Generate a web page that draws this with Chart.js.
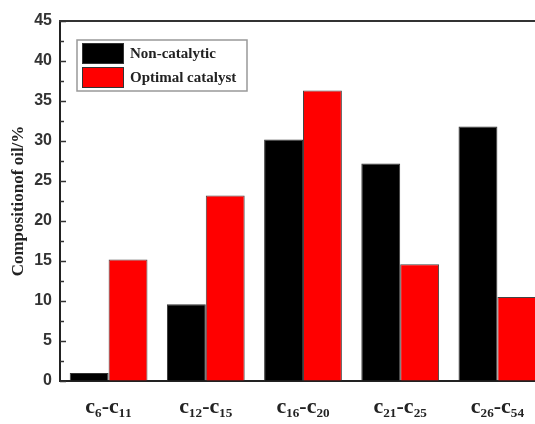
<!DOCTYPE html>
<html>
<head>
<meta charset="utf-8">
<script src="https://cdn.jsdelivr.net/npm/chart.js@4.4.0/dist/chart.umd.min.js"></script>
<style>
  html, body { margin: 0; padding: 0; background: #fff; overflow: hidden; }
  #wrap { width: 560px; height: 424px; }
</style>
</head>
<body>
<div id="wrap"><canvas id="chart" width="560" height="424"></canvas></div>
<script>
// fractions (carbon number ranges)
const categories = ['c\u2086-c\u2081\u2081', 'c\u2081\u2082-c\u2081\u2085', 'c\u2081\u2086-c\u2082\u2080', 'c\u2082\u2081-c\u2082\u2085', 'c\u2082\u2086-c\u2085\u2084'];
const nonCatalytic = [1.0, 9.6, 30.2, 27.2, 31.8];
const optimalCatalyst = [15.2, 23.2, 36.3, 14.6, 10.5];
const seriesNames = ['Non-catalytic', 'Optimal catalyst'];
const seriesColors = ['#000000', '#ff0000'];

// inward ticks, top frame line, and boxed legend inside the plot
const framePlugin = {
    id: 'frame',
    afterDraw(chart) {
        const ctx = chart.ctx;
        const area = chart.chartArea;
        const y = chart.scales.y;
        ctx.save();
        ctx.strokeStyle = '#333';
        ctx.lineWidth = 1.5;
        for (let v = 0; v <= 45; v += 2.5) {
            let py = Math.round(y.getPixelForValue(v)) + 0.5;
            let len = (v % 5 === 0) ? 6 : 4;
            ctx.beginPath();
            ctx.moveTo(area.left, py);
            ctx.lineTo(area.left + len, py);
            ctx.stroke();
        }
        ctx.lineWidth = 2;
        ctx.beginPath();
        ctx.moveTo(area.left - 1, area.top);
        ctx.lineTo(area.right, area.top);
        ctx.stroke();

        // legend
        let bx = 77, by = 40, bw = 170, bh = 51;
        ctx.fillStyle = '#fff';
        ctx.fillRect(bx, by, bw, bh);
        ctx.strokeStyle = '#999';
        ctx.lineWidth = 1.5;
        ctx.strokeRect(bx, by, bw, bh);
        ctx.font = 'bold 15px "Liberation Serif", "Times New Roman", serif';
        ctx.textBaseline = 'middle';
        chart.data.datasets.forEach((ds, i) => {
            let sy = by + 3 + i * 24;
            ctx.fillStyle = ds.backgroundColor;
            ctx.fillRect(bx + 5, sy, 42, 21);
            ctx.strokeStyle = '#333';
            ctx.lineWidth = 1;
            ctx.strokeRect(bx + 5.5, sy + 0.5, 41, 20);
            ctx.fillStyle = '#222';
            ctx.fillText(ds.label, bx + 53, sy + 11);
        });
        ctx.restore();
    }
};

const data = {
    labels: categories,
    datasets: [{
            label: seriesNames[0],
            data: nonCatalytic,
            backgroundColor: seriesColors[0],
            borderColor: '#333',
            borderWidth: 1
        }, {
            label: seriesNames[1],
            data: optimalCatalyst,
            backgroundColor: seriesColors[1],
            borderColor: '#444',
            borderWidth: 1
        }]
};

const config = {
    type: 'bar',
    data: data,
    options: {
        responsive: false,
        animation: false,
        layout: { padding: { top: 21, right: 14, left: 0, bottom: 0 } },
        datasets: { bar: { categoryPercentage: 0.8, barPercentage: 1.0 } },
        plugins: {
            legend: { display: false },
            tooltip: { enabled: false }
        },
        scales: {
            x: {
                grid: { display: false, drawTicks: false },
                border: { color: '#222', width: 2 },
                ticks: {
                    color: '#222',
                    padding: 13,
                    maxRotation: 0,
                    font: { family: '"Liberation Serif", "Times New Roman", serif', size: 22, weight: 'bold' }
                },
                afterFit(scale) { scale.height = 43; }
            },
            y: {
                min: 0,
                max: 45,
                grid: { drawOnChartArea: false, drawTicks: false },
                border: { color: '#222', width: 2 },
                ticks: {
                    stepSize: 5,
                    color: '#333',
                    padding: 8,
                    font: { family: '"Liberation Sans", Arial, sans-serif', size: 16, weight: 'bold' }
                },
                title: {
                    display: true,
                    text: 'Compositionof oil/%',
                    color: '#222',
                    padding: { top: 8, bottom: 0 },
                    font: { family: '"Liberation Serif", "Times New Roman", serif', size: 17, weight: 'bold' }
                },
                afterFit(scale) { scale.width = 60; }
            }
        }
    },
    plugins: [framePlugin]
};

let ctx = document.getElementById('chart').getContext('2d');
new Chart(ctx, config);
</script>
</body>
</html>
